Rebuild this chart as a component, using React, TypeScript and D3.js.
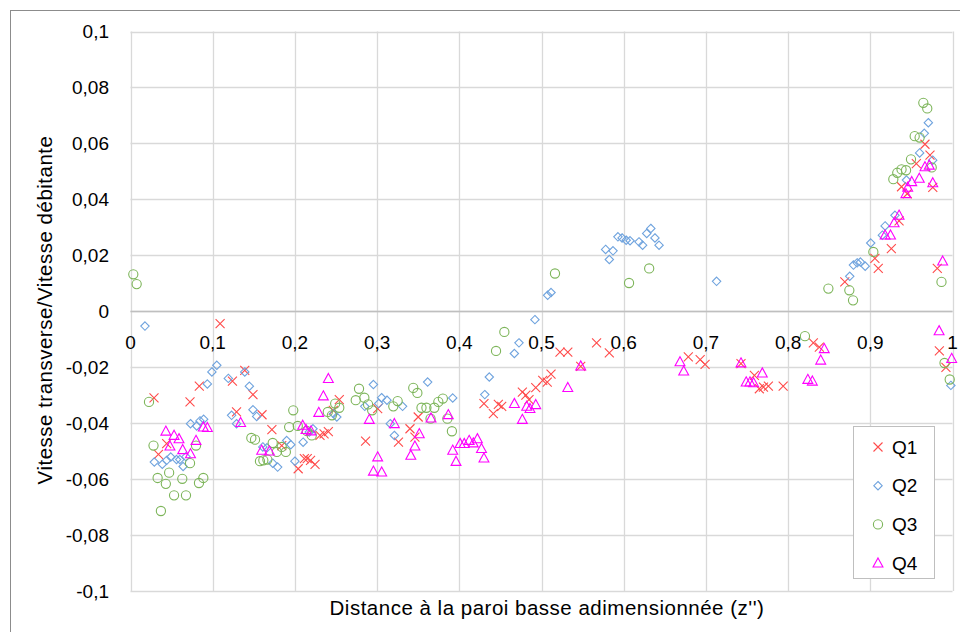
import React from "react";
import * as d3 from "d3";

type P = [number, number];

const seriesNames = ["Q1", "Q2", "Q3", "Q4"];

const q1: P[] = [
  [0.109, -0.0044], [0.0286, -0.031], [0.0837, -0.0268], [0.0724, -0.0324], [0.034, -0.0512],
  [0.044, -0.0473], [0.124, -0.025], [0.139, -0.0211], [0.149, -0.0298], [0.129, -0.036],
  [0.16, -0.037], [0.172, -0.0423], [0.184, -0.048], [0.204, -0.0563], [0.2115, -0.0527],
  [0.215, -0.0527], [0.219, -0.0533], [0.2245, -0.0547], [0.2305, -0.0444], [0.2355, -0.0438],
  [0.2407, -0.043], [0.2467, -0.0354], [0.254, -0.0316], [0.3007, -0.0348], [0.286, -0.0464],
  [0.326, -0.0468], [0.34, -0.042], [0.346, -0.045], [0.35, -0.0378], [0.43, -0.033],
  [0.4414, -0.0366], [0.4475, -0.0333], [0.4516, -0.034], [0.4767, -0.0289], [0.481, -0.03],
  [0.4848, -0.0316], [0.493, -0.0273], [0.5015, -0.0247], [0.507, -0.0253], [0.5116, -0.0225],
  [0.5225, -0.0146], [0.532, -0.0146], [0.567, -0.0113], [0.5825, -0.0149], [0.5477, -0.0197],
  [0.6786, -0.0163], [0.693, -0.0173], [0.699, -0.019], [0.7427, -0.0187], [0.759, -0.0229],
  [0.765, -0.0277], [0.77, -0.0271], [0.776, -0.0268], [0.794, -0.0268], [0.8307, -0.0113],
  [0.838, -0.0128], [0.869, 0.0105], [0.9665, 0.0597], [0.956, 0.0528], [0.9726, 0.0558],
  [0.938, 0.0445], [0.935, 0.0323], [0.9256, 0.0224], [0.9056, 0.0189], [0.9097, 0.0153],
  [0.976, 0.0443], [0.9815, 0.0153], [0.984, -0.0142], [0.992, -0.0201], [0.945, 0.042],
];

const q2: P[] = [
  [0.0176, -0.0053], [0.029, -0.0539], [0.0387, -0.0547], [0.044, -0.0533], [0.049, -0.0521],
  [0.056, -0.053], [0.06, -0.053], [0.064, -0.0555], [0.0675, -0.052], [0.073, -0.0402],
  [0.0805, -0.041], [0.0845, -0.0392], [0.089, -0.0386], [0.0935, -0.026], [0.099, -0.0217],
  [0.105, -0.0193], [0.119, -0.024], [0.123, -0.0372], [0.129, -0.0402], [0.139, -0.0217],
  [0.1446, -0.0268], [0.149, -0.0352], [0.1535, -0.0376], [0.161, -0.0485], [0.166, -0.0488],
  [0.173, -0.0543], [0.179, -0.0557], [0.19, -0.0462], [0.195, -0.0477], [0.2, -0.0536],
  [0.21, -0.0468], [0.2175, -0.0432], [0.222, -0.042], [0.247, -0.0366], [0.251, -0.0378],
  [0.285, -0.034], [0.2955, -0.0262], [0.302, -0.033], [0.3055, -0.0309], [0.312, -0.0318],
  [0.316, -0.0402], [0.321, -0.0444], [0.331, -0.034], [0.3615, -0.0253], [0.392, -0.031],
  [0.431, -0.0298], [0.4365, -0.0235], [0.467, -0.0151], [0.4726, -0.0113], [0.492, -0.003],
  [0.5075, 0.0057], [0.5116, 0.0067], [0.578, 0.0221], [0.587, 0.0216], [0.5825, 0.0185],
  [0.593, 0.0266], [0.598, 0.0262], [0.603, 0.0254], [0.6077, 0.0252], [0.6186, 0.0248],
  [0.623, 0.0236], [0.628, 0.0278], [0.633, 0.0296], [0.638, 0.0262], [0.643, 0.0236],
  [0.713, 0.0107], [0.875, 0.0125], [0.8795, 0.0165], [0.884, 0.0173], [0.888, 0.0176],
  [0.8938, 0.0161], [0.9005, 0.0244], [0.9147, 0.0272], [0.918, 0.0305], [0.93, 0.0343],
  [0.944, 0.0469], [0.96, 0.0566], [0.9657, 0.0636], [0.9706, 0.0674], [0.9759, 0.054],
  [0.998, -0.0265],
];

const q3: P[] = [
  [0.0034, 0.0132], [0.0075, 0.0097], [0.0225, -0.0324], [0.028, -0.048], [0.033, -0.0596],
  [0.043, -0.0617], [0.037, -0.0714], [0.047, -0.0577], [0.053, -0.0658], [0.063, -0.0599],
  [0.0675, -0.0658], [0.0724, -0.0543], [0.0797, -0.048], [0.0833, -0.0614], [0.0886, -0.0596],
  [0.147, -0.0453], [0.1515, -0.0459], [0.1575, -0.0536], [0.1616, -0.0533], [0.1665, -0.053],
  [0.173, -0.0471], [0.178, -0.0503], [0.184, -0.0485], [0.189, -0.0503], [0.193, -0.0414],
  [0.198, -0.0354], [0.2035, -0.041], [0.2145, -0.0428], [0.2205, -0.0444], [0.24, -0.036],
  [0.245, -0.0372], [0.249, -0.033], [0.254, -0.0345], [0.274, -0.0318], [0.278, -0.0277],
  [0.2845, -0.0309], [0.289, -0.0333], [0.294, -0.0354], [0.3197, -0.034], [0.325, -0.0321],
  [0.344, -0.0274], [0.349, -0.0292], [0.354, -0.0345], [0.36, -0.0345], [0.365, -0.0384],
  [0.3696, -0.0345], [0.3745, -0.0324], [0.38, -0.0312], [0.3855, -0.0384], [0.391, -0.0429],
  [0.4447, -0.0142], [0.4548, -0.0074], [0.5164, 0.0135], [0.6065, 0.0101], [0.631, 0.0153],
  [0.8205, -0.0089], [0.849, 0.0081], [0.8745, 0.0075], [0.879, 0.0039], [0.9037, 0.0212],
  [0.928, 0.0472], [0.9328, 0.0495], [0.938, 0.0507], [0.9435, 0.0504], [0.9495, 0.0543],
  [0.954, 0.0626], [0.96, 0.0621], [0.9645, 0.0745], [0.9693, 0.0725], [0.9747, 0.0514],
  [0.9866, 0.0105], [0.9903, -0.0185], [0.9966, -0.0244],
];

const q4: P[] = [
  [0.043, -0.0429], [0.053, -0.0444], [0.059, -0.0456], [0.048, -0.0482], [0.0635, -0.0495],
  [0.073, -0.051], [0.0797, -0.0462], [0.0886, -0.0414], [0.0935, -0.0416], [0.134, -0.0398],
  [0.1596, -0.0497], [0.169, -0.05], [0.2095, -0.0408], [0.2135, -0.0423], [0.2196, -0.0428],
  [0.229, -0.0362], [0.2346, -0.0303], [0.2407, -0.0241], [0.2905, -0.0387], [0.3007, -0.0521],
  [0.2955, -0.0572], [0.3056, -0.0575], [0.321, -0.0402], [0.3513, -0.0438], [0.346, -0.0482],
  [0.341, -0.0515], [0.3656, -0.0382], [0.3866, -0.037], [0.392, -0.0497], [0.396, -0.0537],
  [0.401, -0.0473], [0.406, -0.0473], [0.412, -0.0462], [0.417, -0.0471], [0.422, -0.0456],
  [0.427, -0.0491], [0.43, -0.0525], [0.467, -0.033], [0.4767, -0.0387], [0.482, -0.034],
  [0.486, -0.0348], [0.493, -0.0334], [0.532, -0.0273], [0.5477, -0.0196], [0.6685, -0.0181],
  [0.673, -0.0214], [0.7427, -0.0185], [0.749, -0.0253], [0.7536, -0.0253], [0.758, -0.0256],
  [0.7686, -0.0221], [0.824, -0.0244], [0.8295, -0.025], [0.8397, -0.0175], [0.844, -0.0134],
  [0.9665, 0.0516], [0.9718, 0.0522], [0.9596, 0.0475], [0.9504, 0.0463], [0.9455, 0.0443],
  [0.9433, 0.042], [0.935, 0.0343], [0.929, 0.0316], [0.9246, 0.0272], [0.918, 0.0272],
  [0.976, 0.0459], [0.988, 0.0179], [0.9837, -0.007], [0.999, -0.0169],
];

const xTicks = [0, 0.1, 0.2, 0.3, 0.4, 0.5, 0.6, 0.7, 0.8, 0.9, 1];
const yTicks = [-0.1, -0.08, -0.06, -0.04, -0.02, 0, 0.02, 0.04, 0.06, 0.08, 0.1];
const xTitle = "Distance à la paroi basse adimensionnée (z'')";
const yTitle = "Vitesse transverse/Vitesse débitante";

const colors = ["#FF4B4B", "#6FA3DE", "#7DB55A", "#FF00FF"];
const FONT = "'Liberation Sans', Arial, sans-serif";

const fmt = (v: number) => {
  if (Math.abs(v) < 1e-9) return "0";
  const s = d3.format("")(+v.toFixed(2));
  return s.replace(".", ",").replace("−", "-");
};

function Marker({ kind, x, y, color }: { kind: number; x: number; y: number; color: string }) {
  if (kind === 0) {
    const r = 4.5;
    return (
      <path d={`M${x - r},${y - r}L${x + r},${y + r}M${x - r},${y + r}L${x + r},${y - r}`} stroke={color} strokeWidth={1.1} fill="none" />
    );
  }
  if (kind === 1) {
    const r = 4.2;
    return <path d={`M${x},${y - r}L${x + r},${y}L${x},${y + r}L${x - r},${y}Z`} stroke={color} strokeWidth={1.1} fill="none" />;
  }
  if (kind === 2) {
    return <circle cx={x} cy={y} r={4.6} stroke={color} strokeWidth={1.1} fill="none" />;
  }
  const r = 5.2;
  return <path d={`M${x},${y - r}L${x + r * 0.95},${y + r * 0.75}L${x - r * 0.95},${y + r * 0.75}Z`} stroke={color} strokeWidth={1.1} fill="none" />;
}

export default function App() {
  const W = 960, H = 632;
  const x = d3.scaleLinear().domain([0, 1]).range([130.5, 952.5]);
  const y = d3.scaleLinear().domain([-0.1, 0.1]).range([591, 31.5]);
  const all = [q1, q2, q3, q4];

  return (
    <svg width={W} height={H} style={{ position: "absolute", left: 0, top: 0, background: "#fff" }} fontFamily={FONT}>
      <rect x={0} y={0} width={W} height={H} fill="#fff" />
      <rect x={10.5} y={10.5} width={1000} height={700} fill="none" stroke="#8c8c8c" strokeWidth={1} />
      {yTicks.map((t) => (
        <line key={"gy" + t} x1={x(0)} x2={x(1)} y1={Math.round(y(t)) + 0.5} y2={Math.round(y(t)) + 0.5} stroke="#d9d9d9" strokeWidth={1.3} />
      ))}
      {xTicks.map((t) => (
        <line key={"gx" + t} x1={Math.round(x(t)) + 0.5} x2={Math.round(x(t)) + 0.5} y1={y(0.1)} y2={y(-0.1)} stroke="#d9d9d9" strokeWidth={1.3} />
      ))}
      <line x1={x(0)} x2={x(1)} y1={Math.round(y(0)) + 0.5} y2={Math.round(y(0)) + 0.5} stroke="#bfbfbf" strokeWidth={1.5} />
      {yTicks.map((t) => (
        <text key={"ty" + t} x={109} y={y(t)} dy="0.35em" textAnchor="end" fontSize={19} fill="#000">
          {fmt(t)}
        </text>
      ))}
      {xTicks.map((t) => (
        <text key={"tx" + t} x={x(t)} y={y(0) + 31} dy="0.35em" textAnchor="middle" fontSize={19} fill="#000">
          {fmt(t)}
        </text>
      ))}
      {all.map((s, i) => (
        <g key={"s" + i}>
          {s.map((p, j) => (
            <Marker key={j} kind={i} x={x(p[0])} y={y(p[1])} color={colors[i]} />
          ))}
        </g>
      ))}
      <text x={547} y={608} dy="0.35em" textAnchor="middle" fontSize={20.5} letterSpacing={0.5} fill="#000">{xTitle}</text>
      <text transform={`translate(45,${310}) rotate(-90)`} textAnchor="middle" dy="0.35em" fontSize={20.5} letterSpacing={0.5} fill="#000">{yTitle}</text>
      <g>
        <rect x={853.5} y={426.5} width={81} height={152} fill="#fff" stroke="#bfbfbf" strokeWidth={1} />
        {seriesNames.map((n, i) => (
          <g key={n}>
            <Marker kind={i} x={878} y={447 + i * 38.7} color={colors[i]} />
            <text x={892} y={447 + i * 38.7} dy="0.35em" fontSize={19} fill="#000">{n}</text>
          </g>
        ))}
      </g>
    </svg>
  );
}
